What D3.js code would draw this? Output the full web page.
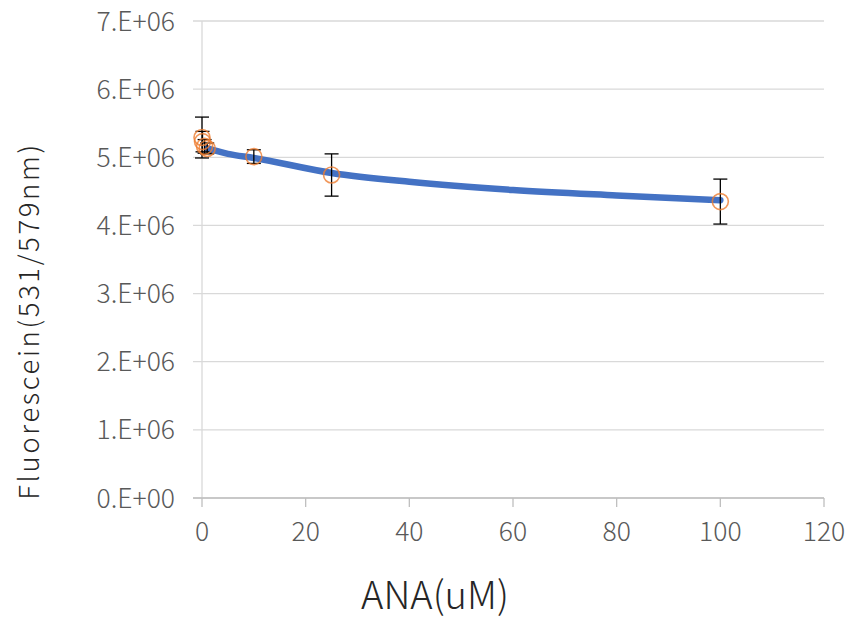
<!DOCTYPE html>
<html>
<head>
<meta charset="utf-8">
<script src="https://cdn.jsdelivr.net/npm/d3@7/dist/d3.min.js"></script>
<style>
  html, body { margin: 0; padding: 0; background: #fff; }
  svg { display: block; }
  text { font-family: "Noto Sans CJK JP", "Noto Sans", sans-serif; font-weight: 300; }
</style>
</head>
<body>
<svg id="chart" width="852" height="619"></svg>
<script>
// Measured points: ANA concentration (uM), mean fluorescein signal, standard deviation
const concentrations = [0, 0.1, 0.5, 1, 10, 25, 100];
const fluorescence   = [5.29e6, 5.23e6, 5.16e6, 5.13e6, 5.01e6, 4.74e6, 4.35e6];
const errors         = [0.30e6, 0.15e6, 0.10e6, 0.08e6, 0.10e6, 0.31e6, 0.33e6];

// Trend curve sampled along the fitted line
const trendX = [1, 5, 10, 25, 40, 60, 80, 100];
const trendY = [5.13e6, 5.05e6, 4.99e6, 4.77e6, 4.64e6, 4.52e6, 4.44e6, 4.37e6];

const xTicks = [0, 20, 40, 60, 80, 100, 120];
const yTicks = [0, 1e6, 2e6, 3e6, 4e6, 5e6, 6e6, 7e6];
const yTickLabels = ["0.E+00", "1.E+06", "2.E+06", "3.E+06", "4.E+06", "5.E+06", "6.E+06", "7.E+06"];

const svg = d3.select("#chart");
const plotLeft = 202, plotRight = 824, plotTop = 21, plotBottom = 498;

const x = d3.scaleLinear().domain([0, 120]).range([plotLeft, plotRight]);
const y = d3.scaleLinear().domain([0, 7e6]).range([plotBottom, plotTop]);

const grid = "#d9d9d9";

// Horizontal gridlines with short outward ticks on the value axis
svg.append("g")
  .selectAll("line")
  .data(yTicks)
  .join("line")
  .attr("x1", plotLeft - 9).attr("x2", plotRight)
  .attr("y1", d => y(d)).attr("y2", d => y(d))
  .attr("stroke", grid).attr("stroke-width", 1.3);

// Value axis line
svg.append("line")
  .attr("x1", plotLeft).attr("x2", plotLeft)
  .attr("y1", plotTop).attr("y2", plotBottom)
  .attr("stroke", grid).attr("stroke-width", 1.3);

// Category axis line and outward ticks
svg.append("line")
  .attr("x1", plotLeft - 9).attr("x2", plotRight)
  .attr("y1", plotBottom).attr("y2", plotBottom)
  .attr("stroke", "#bfbfbf").attr("stroke-width", 1.3);
svg.append("g")
  .selectAll("line")
  .data(xTicks)
  .join("line")
  .attr("x1", d => x(d)).attr("x2", d => x(d))
  .attr("y1", plotBottom).attr("y2", plotBottom + 9)
  .attr("stroke", "#bfbfbf").attr("stroke-width", 1.3);

// Tick labels
svg.append("g")
  .selectAll("text")
  .data(yTicks)
  .join("text")
  .attr("x", plotLeft - 27)
  .attr("y", d => y(d))
  .attr("dy", "0.36em")
  .attr("text-anchor", "end")
  .attr("font-size", 26.5)
  .attr("fill", "#595959")
  .text((d, i) => yTickLabels[i]);

svg.append("g")
  .selectAll("text")
  .data(xTicks)
  .join("text")
  .attr("x", d => x(d))
  .attr("y", 531)
  .attr("dy", "0.36em")
  .attr("text-anchor", "middle")
  .attr("font-size", 26.5)
  .attr("fill", "#595959")
  .text(d => d);

// Axis titles
svg.append("text")
  .attr("x", 435).attr("y", 609)
  .attr("text-anchor", "middle")
  .attr("font-size", 38)
  .attr("fill", "#262626")
  .text("ANA(uM)");

svg.append("text")
  .attr("transform", "translate(39,321) rotate(-90)")
  .attr("text-anchor", "middle")
  .attr("font-size", 27.5)
  .attr("letter-spacing", 2.6)
  .attr("fill", "#262626")
  .text("Fluorescein(531/579nm)");

// Trend line
const line = d3.line()
  .x((d, i) => x(trendX[i]))
  .y(d => y(d))
  .curve(d3.curveMonotoneX);
svg.append("path")
  .datum(trendY)
  .attr("d", line)
  .attr("fill", "none")
  .attr("stroke", "#4472c4")
  .attr("stroke-width", 6.5)
  .attr("stroke-linecap", "round");

const pts = concentrations.map((c, i) => ({ c, v: fluorescence[i], e: errors[i] }));

// Error bars
const eb = svg.append("g").attr("stroke", "#000").attr("stroke-width", 1.3);
pts.forEach(p => {
  eb.append("line")
    .attr("x1", x(p.c)).attr("x2", x(p.c))
    .attr("y1", y(p.v + p.e)).attr("y2", y(p.v - p.e));
  [p.v + p.e, p.v - p.e].forEach(v => {
    eb.append("line")
      .attr("x1", x(p.c) - 7).attr("x2", x(p.c) + 7)
      .attr("y1", y(v)).attr("y2", y(v));
  });
});

// Markers
svg.append("g")
  .selectAll("circle")
  .data(pts)
  .join("circle")
  .attr("cx", d => x(d.c))
  .attr("cy", d => y(d.v))
  .attr("r", 8)
  .attr("fill", "none")
  .attr("stroke", "#ed7d31")
  .attr("stroke-opacity", 0.8)
  .attr("stroke-width", 1.6);
</script>
</body>
</html>
